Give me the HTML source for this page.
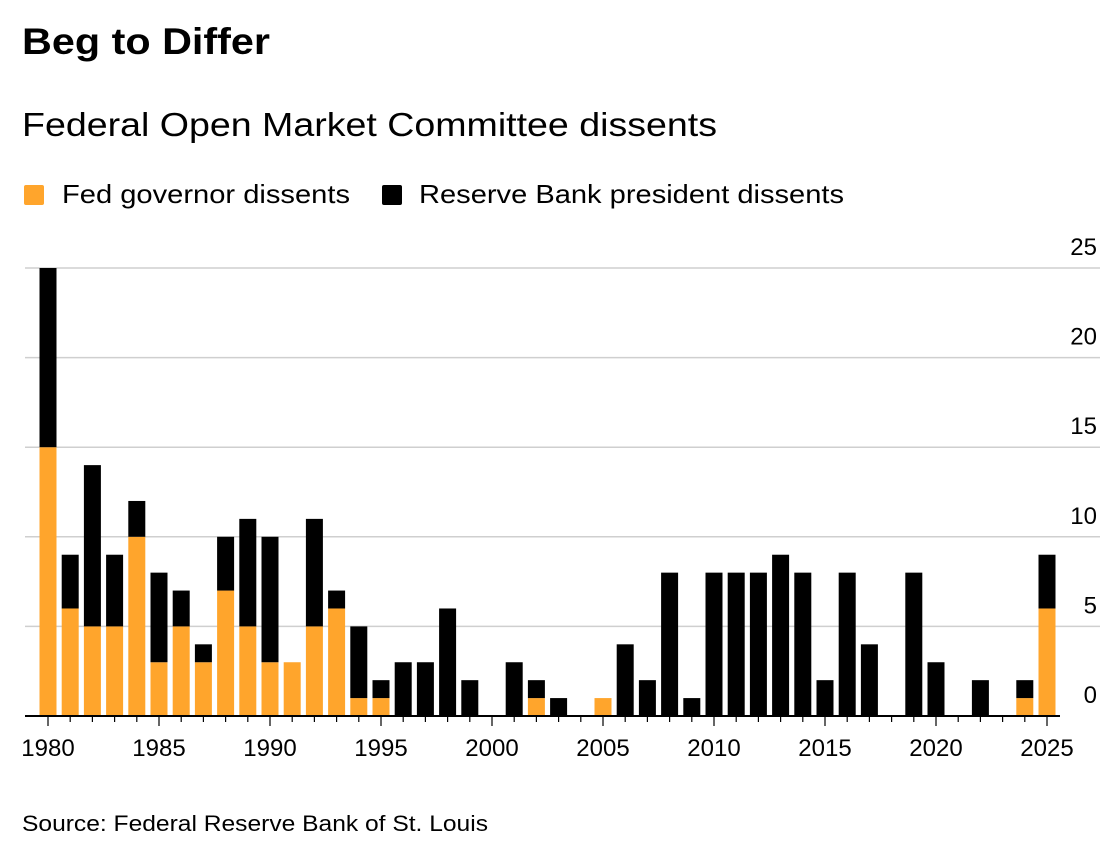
<!DOCTYPE html>
<html><head><meta charset="utf-8"><style>
body{margin:0;background:#fff;font-family:"Liberation Sans",sans-serif;}
</style></head><body>
<svg width="1118" height="848" xmlns="http://www.w3.org/2000/svg" font-family="Liberation Sans, sans-serif">
<text x="22" y="54" font-size="37" font-weight="bold" fill="#000" textLength="248" lengthAdjust="spacingAndGlyphs">Beg to Differ</text>
<text x="22" y="136" font-size="33" fill="#000" textLength="695" lengthAdjust="spacingAndGlyphs">Federal Open Market Committee dissents</text>
<rect x="24" y="185" width="20" height="20" rx="2" fill="#ffa52c"/>
<text x="62" y="203" font-size="26" fill="#000" textLength="288" lengthAdjust="spacingAndGlyphs">Fed governor dissents</text>
<rect x="382" y="185" width="20" height="20" rx="2" fill="#000"/>
<text x="419" y="203" font-size="26" fill="#000" textLength="425" lengthAdjust="spacingAndGlyphs">Reserve Bank president dissents</text>
<g id="grid"></g>
<g id="bars"></g>
<g id="axis"></g>
<text x="22" y="831" font-size="22" fill="#000" textLength="466" lengthAdjust="spacingAndGlyphs">Source: Federal Reserve Bank of St. Louis</text>
</svg>
<script>
const years=[];for(let y=1980;y<=2025;y++)years.push(y);
const governor=[15,6,5,5,10,3,5,3,7,5,3,3,5,6,1,1,0,0,0,0,0,0,1,0,0,1,0,0,0,0,0,0,0,0,0,0,0,0,0,0,0,0,0,0,1,6];
const reserve=[10,3,9,4,2,5,2,1,3,6,7,0,6,1,4,1,3,3,6,2,0,3,1,1,0,0,4,2,8,1,8,8,8,9,8,2,8,4,0,8,3,0,2,0,1,3];
const yTicks=[0,5,10,15,20,25];
const xLabels=[1980,1985,1990,1995,2000,2005,2010,2015,2020,2025];
const NS="http://www.w3.org/2000/svg";
const xs=y=>48+(y-1980)*(1047-48)/45;
const ys=v=>716-v*(716-268)/25;
function mk(t,a,p){const e=document.createElementNS(NS,t);for(const k in a)e.setAttribute(k,a[k]);p.appendChild(e);return e;}
const grid=document.getElementById('grid'),bars=document.getElementById('bars'),axis=document.getElementById('axis');
yTicks.forEach(v=>{
  if(v>0){const l=mk('line',{x1:25,x2:1100,y1:ys(v),y2:ys(v),stroke:'#cfcfcf','stroke-width':1.5},grid);
  
  }
  const t=mk('text',{x:1097,y:ys(v)-13,'font-size':24,'text-anchor':'end',fill:'#000'},grid);
  t.textContent=v;
  
  
});
const bw=17;
years.forEach((y,i)=>{
  const x=xs(y)-bw/2;
  if(governor[i]>0){const r=mk('rect',{x:x,y:ys(governor[i]),width:bw,height:ys(0)-ys(governor[i]),fill:'#ffa52c'},bars);
  
  }
  if(reserve[i]>0){const top=governor[i]+reserve[i];const r=mk('rect',{x:x,y:ys(top),width:bw,height:ys(governor[i])-ys(top),fill:'#000'},bars);
  
  }
  const tk=mk('line',{x1:xs(y),x2:xs(y),y1:716,y2:xLabels.includes(y)?726:722,stroke:'#000','stroke-width':1.2},axis);
  
  
});
const ax=mk('line',{x1:25,x2:1060,y1:716,y2:716,stroke:'#000','stroke-width':2},axis);


xLabels.forEach(y=>{
  const t=mk('text',{x:xs(y),y:756,'font-size':24,'text-anchor':'middle',fill:'#000'},axis);
  t.textContent=y;
  
  
});
</script>
</body></html>
